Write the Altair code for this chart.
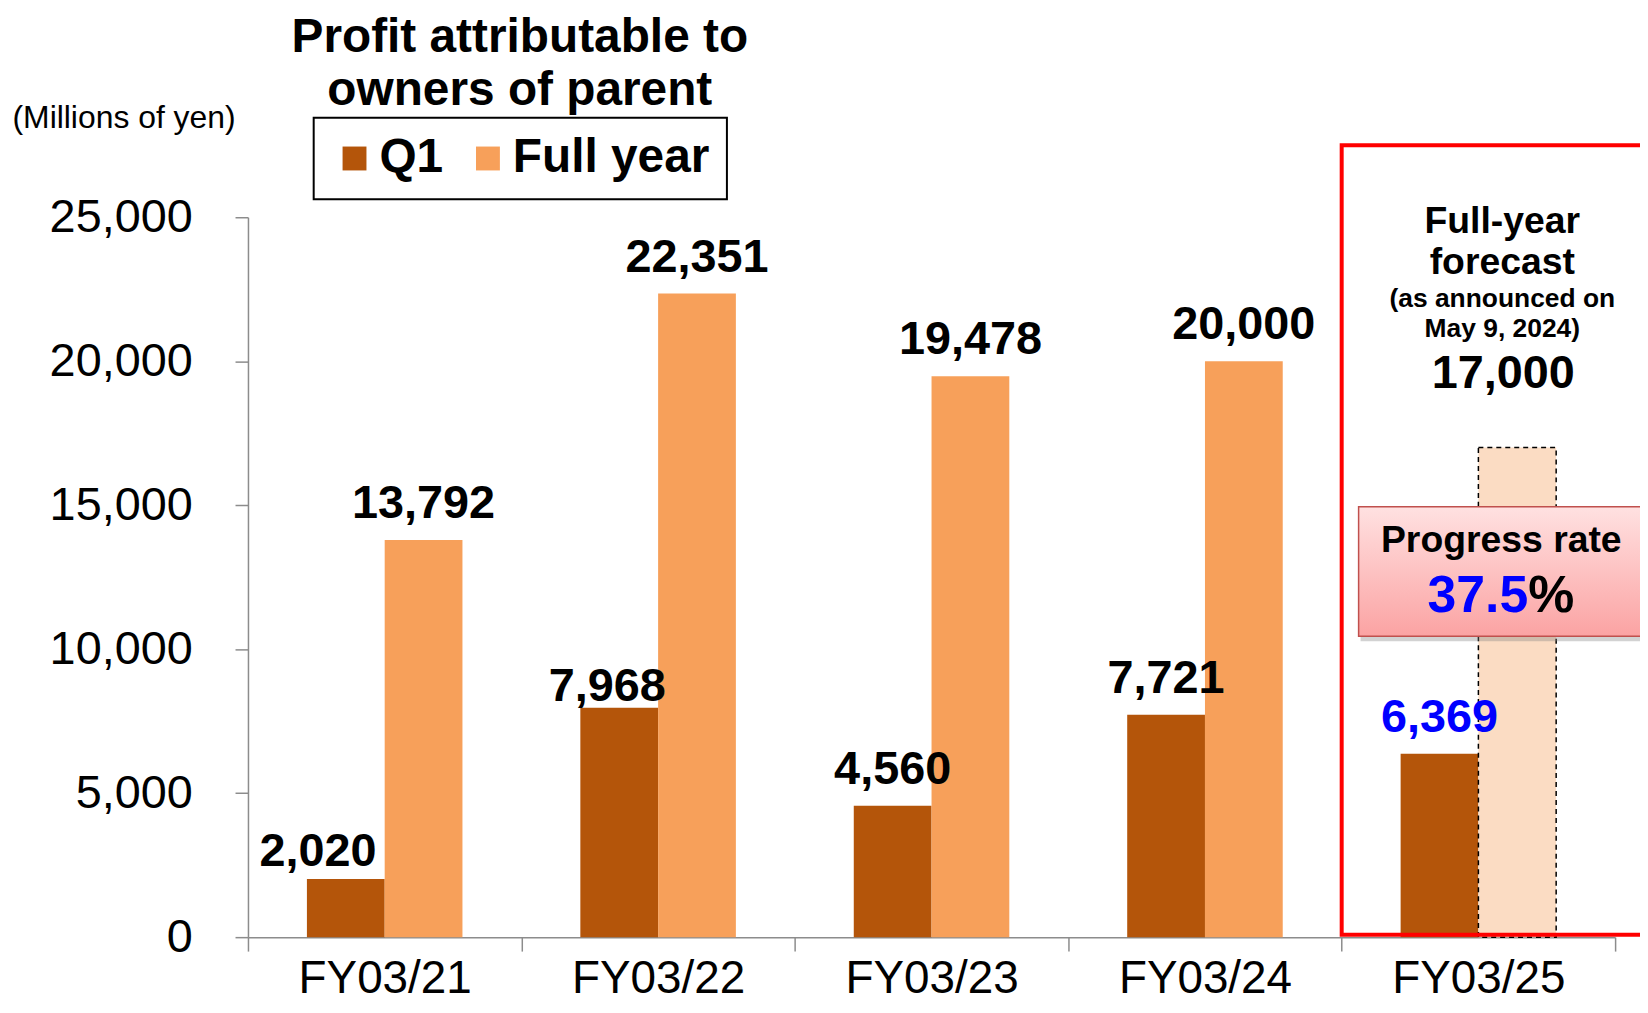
import altair as alt
import pandas as pd

# ---------------- data ----------------
categories = ["FY03/21", "FY03/22", "FY03/23", "FY03/24", "FY03/25"]
q1_values = [2020, 7968, 4560, 7721, 6369]
full_year_values = [13792, 22351, 19478, 20000, None]
series_names = ["Q1", "Full year"]
series_colors = ["#B4550A", "#F7A05A"]
y_ticks = [0, 5000, 10000, 15000, 20000, 25000]

forecast_category = "FY03/25"
forecast_value = 17000
progress_rate = 37.5
forecast_lines = ["Full-year", "forecast", "(as announced on", "May 9, 2024)"]

title_lines = ["Profit attributable to", "owners of parent"]
unit_label = "(Millions of yen)"
progress_label = "Progress rate"

# ---------------- styling ----------------
FONT = "Liberation Sans, Arial, Helvetica, sans-serif"
BLACK = "#000000"
BLUE = "#0000FF"
AXIS_GRAY = "#8C8C8C"
FORECAST_FILL = "#FBDCC3"
RED = "#FF0000"

# annotation extents (value units)
RED_BOX = (80, 27500)
PROGRESS_BOX = (10450, 14950)

# label nudges (dx, dy) for labels that sit off-centre in the reference
LABEL_NUDGES = {("FY03/21", "Q1"): (-28, -13), ("FY03/22", "Q1"): (-12, -7)}

rows = []
for cat, q, f in zip(categories, q1_values, full_year_values):
    rows.append({"cat": cat, "series": "Q1", "value": q})
    if f is not None:
        rows.append({"cat": cat, "series": "Full year", "value": f})
bars_df = pd.DataFrame(rows)

x_axis = alt.Axis(
    title=None, labelAngle=0, labelFontSize=46, labelFont=FONT, labelColor=BLACK,
    labelPadding=6, tickSize=14, tickBand="extent", tickColor=AXIS_GRAY, tickWidth=1.5,
    domainColor=AXIS_GRAY, domainWidth=1.5, grid=False, labelLimit=400,
)
x_scale = alt.Scale(domain=categories, paddingInner=0, paddingOuter=0)


def x_enc(**kw):
    return alt.X("cat:N", sort=categories, scale=x_scale, axis=x_axis, **kw)


xoff = alt.XOffset(
    "series:N", sort=series_names,
    scale=alt.Scale(domain=series_names, paddingInner=0, paddingOuter=0.758),
)

y_axis = alt.Axis(
    title=unit_label, titleAngle=0, titleAlign="left", titleBaseline="alphabetic",
    titleX=-237, titleY=-90, titleFontSize=32, titleFontWeight="normal", titleFont=FONT,
    titleColor=BLACK, values=y_ticks, labelExpr="format(datum.value, ',')",
    labelFontSize=47, labelFont=FONT,
    labelColor=BLACK, labelPadding=43, tickSize=13, tickColor=AXIS_GRAY, tickWidth=1.5,
    domainColor=AXIS_GRAY, domainWidth=1.5, grid=False,
)
y_scale = alt.Scale(domain=[0, 25000], nice=False, zero=True)


def y_enc(field="value"):
    return alt.Y(f"{field}:Q", scale=y_scale, axis=y_axis)


# ---------------- bars ----------------
bars = alt.Chart(bars_df).mark_bar().encode(
    x=x_enc(),
    xOffset=xoff,
    y=y_enc(),
    color=alt.Color(
        "series:N", sort=series_names,
        scale=alt.Scale(domain=series_names, range=series_colors),
        legend=alt.Legend(
            title=None, orient="none", legendX=66, legendY=-100, direction="horizontal",
            symbolType="square", symbolSize=576, symbolStrokeWidth=0,
            labelFontSize=48, labelFontWeight="bold", labelFont=FONT, labelColor=BLACK,
            labelOffset=1, columnPadding=20, padding=17, strokeColor=BLACK,
            fillColor="#FFFFFF", labelLimit=400,
        ),
    ),
)

forecast_df = pd.DataFrame([{"cat": forecast_category, "series": "Full year", "value": forecast_value}])
forecast_bar = alt.Chart(forecast_df).mark_bar(
    fill=FORECAST_FILL, stroke=BLACK, strokeDash=[5, 4], strokeWidth=1.5
).encode(x=x_enc(), xOffset=xoff, y=y_enc())

# ---------------- value labels ----------------
label_color = alt.condition(
    f"datum.cat === '{forecast_category}'", alt.value(BLUE), alt.value(BLACK)
)
nudge_test = " || ".join(
    f"(datum.cat === '{c}' && datum.series === '{s}')" for (c, s) in LABEL_NUDGES
)
label_layers = [
    alt.Chart(bars_df).transform_filter(f"!({nudge_test})").mark_text(
        font=FONT, fontSize=47, fontWeight="bold", baseline="alphabetic", dy=-22
    ).encode(x=x_enc(), xOffset=xoff, y=y_enc(),
             text=alt.Text("value:Q", format=","), color=label_color)
]
for (c, s), (ddx, ddy) in LABEL_NUDGES.items():
    label_layers.append(
        alt.Chart(bars_df).transform_filter(
            f"datum.cat === '{c}' && datum.series === '{s}'"
        ).mark_text(
            font=FONT, fontSize=47, fontWeight="bold", baseline="alphabetic", dx=ddx, dy=ddy
        ).encode(x=x_enc(), xOffset=xoff, y=y_enc(),
                 text=alt.Text("value:Q", format=","), color=label_color)
    )

# ---------------- forecast annotation ----------------
annot_df = pd.DataFrame([{"cat": forecast_category, "value": forecast_value}])
line_styles = [(37.5, -216), (37.5, -174), (26.5, -141), (26.5, -111)]
forecast_text_layers = []
for line, (fs, ddy) in zip(forecast_lines, line_styles):
    forecast_text_layers.append(
        alt.Chart(annot_df).mark_text(
            text=line, font=FONT, fontSize=fs, fontWeight="bold", color=BLACK,
            baseline="alphabetic", dx=24, dy=ddy
        ).encode(x=x_enc(), y=y_enc())
    )
forecast_text_layers.append(
    alt.Chart(annot_df).mark_text(
        font=FONT, fontSize=47, fontWeight="bold", color=BLACK,
        baseline="alphabetic", dx=25, dy=-60
    ).encode(x=x_enc(), y=y_enc(), text=alt.Text("value:Q", format=","))
)

# ---------------- progress-rate box ----------------
prog_df = pd.DataFrame([{
    "cat": forecast_category, "value": PROGRESS_BOX[0], "value2": PROGRESS_BOX[1],
    "rate": progress_rate,
}])
prog_shadow = alt.Chart(prog_df).mark_rect(
    fill="#7F7F7F", opacity=0.35, xOffset=19, x2Offset=31, yOffset=5, y2Offset=5
).encode(x=x_enc(bandPosition=0), x2=alt.X2("cat", bandPosition=1),
         y=y_enc(), y2="value2")
prog_box = alt.Chart(prog_df).mark_rect(
    fill=alt.Gradient(
        gradient="linear", x1=0, x2=0, y1=0, y2=1,
        stops=[alt.GradientStop(offset=0, color="#FFE1E1"),
               alt.GradientStop(offset=1, color="#FBA3A3")],
    ),
    stroke="#C0504D", strokeWidth=1.5, xOffset=17, x2Offset=28,
).encode(x=x_enc(bandPosition=0), x2=alt.X2("cat", bandPosition=1),
         y=y_enc(), y2="value2")
prog_title = alt.Chart(prog_df).mark_text(
    text=progress_label, font=FONT, fontSize=37.5, fontWeight="bold", color=BLACK,
    baseline="alphabetic", dx=23, dy=46
).encode(x=x_enc(), y=y_enc("value2"))
prog_num = alt.Chart(prog_df).mark_text(
    font=FONT, fontSize=52, fontWeight="bold", color=BLUE,
    baseline="alphabetic", align="right", dx=50, dy=106
).encode(x=x_enc(), y=y_enc("value2"), text=alt.Text("rate:Q", format=".1f"))
prog_pct = alt.Chart(prog_df).mark_text(
    text="%", font=FONT, fontSize=52, fontWeight="bold", color=BLACK,
    baseline="alphabetic", align="left", dx=50, dy=106
).encode(x=x_enc(), y=y_enc("value2"))

# ---------------- red highlight box ----------------
red_df = pd.DataFrame([{"cat": forecast_category, "value": RED_BOX[0], "value2": RED_BOX[1]}])
red_box = alt.Chart(red_df).mark_rect(
    fillOpacity=0, stroke=RED, strokeWidth=4, x2Offset=40
).encode(x=x_enc(bandPosition=0), x2=alt.X2("cat", bandPosition=1),
         y=y_enc(), y2="value2")

chart = alt.layer(
    bars, forecast_bar, *label_layers, *forecast_text_layers,
    prog_shadow, prog_box, prog_title, prog_num, prog_pct, red_box,
).properties(
    width=1373,
    height=723,
    autosize=alt.AutoSizeParams(type="none"),
    padding={"left": 241, "top": 208, "right": 25, "bottom": 66},
    title=alt.TitleParams(
        text=title_lines, font=FONT, fontSize=48, fontWeight="bold", color=BLACK,
        anchor="start", align="center", dx=273, offset=-13, lineHeight=53, frame="group",
    ),
).configure(font=FONT).configure_view(strokeWidth=0).configure_legend(strokeWidth=2)

chart.save("out.html", embed_options={"renderer": "svg", "actions": False})
